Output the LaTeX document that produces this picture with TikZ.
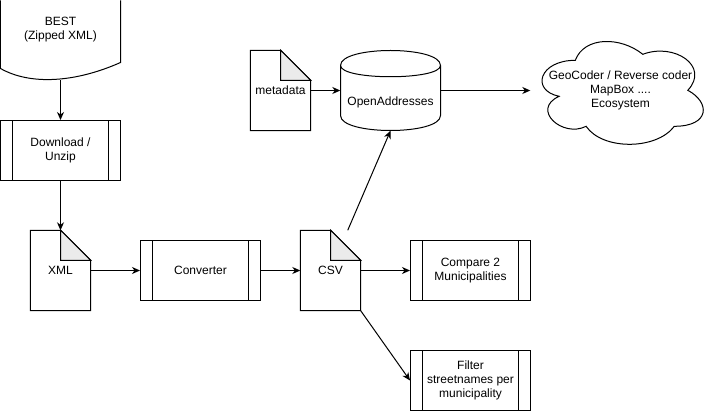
\documentclass[tikz,border=0pt]{standalone}
\usepackage{fontspec}
\setmainfont{Liberation Sans}
\usetikzlibrary{arrows.meta,calc}
\begin{document}
\begin{tikzpicture}[x=1pt,y=-1pt,
  every node/.style={font=\fontsize{12}{14}\selectfont, align=center, inner sep=0pt},
  shapeline/.style={line width=1pt, draw=black},
  arr/.style={line width=1pt, -{Stealth[length=8pt,width=7pt,inset=2.5pt]}},
  plainline/.style={line width=1pt},
  procbox/.style={draw, line width=1pt, rectangle, minimum width=120pt, minimum height=60pt,
    path picture={\draw[line width=1pt]
      ([xshift=12pt]path picture bounding box.north west) -- ([xshift=12pt]path picture bounding box.south west)
      ([xshift=-12pt]path picture bounding box.north east) -- ([xshift=-12pt]path picture bounding box.south east);}},
  docbox/.style={rectangle, minimum width=60pt, minimum height=80pt},
  foldfill/.style={fill=black!8}
]
\useasboundingbox (-0.5,-0.5) rectangle (710.5,410.5);

% BEST (document shape)
\draw[shapeline] (120,0) -- (120,62) .. controls (75,82) and (30,85) .. (0,68) -- (0,0);
\node (best) at (60,29) {BEST\\(Zipped XML)};
\coordinate (bestb) at (60,80);

% Download / Unzip
\node[procbox] (dl) at (60,150) {Download /\\Unzip};

% documents with folded corner
\newcommand\mynotedoc[1]{%
  \draw[shapeline] (#1.north west) -- ([xshift=-30pt]#1.north east) -- ([yshift=-30pt]#1.north east)
     -- (#1.south east) -- (#1.south west) -- cycle;
  \draw[shapeline, foldfill] ([xshift=-30pt]#1.north east) -- ([xshift=-30pt,yshift=-30pt]#1.north east)
     -- ([yshift=-30pt]#1.north east) -- cycle;}

\node[docbox] (xml) at (60,270) {XML};
\mynotedoc{xml}
\node[docbox] (csv) at (330,270) {CSV};
\mynotedoc{csv}
\node[docbox] (meta) at (280,90) {metadata};
\mynotedoc{meta}

% processes
\node[procbox] (conv) at (200,270) {Converter};
\node[procbox] (cmp) at (470,270) {Compare 2\\Municipalities};
\node[procbox] (filt) at (470,380) {Filter\\streetnames per\\municipality};

% OpenAddresses cylinder
\node[rectangle, minimum width=100pt, minimum height=80pt] (oa) at (390,90) {};
\draw[shapeline, fill=white] (340,65) .. controls (340,45) and (440,45) .. (440,65) -- (440,115)
   .. controls (440,135) and (340,135) .. (340,115) -- cycle;
\draw[shapeline] (340,65) .. controls (340,80) and (440,80) .. (440,65);
\node (oatext) at (390,102) {OpenAddresses};

% Cloud
\node[rectangle, minimum width=180pt, minimum height=120pt] (cloud) at (620,90) {GeoCoder / Reverse coder\\MapBox ....\\Ecosystem};
\begin{scope}[shift={(cloud.north west)}]
\draw[shapeline] (45,30) .. controls (9,30) and (0,60) .. (28.8,66)
  .. controls (0,79.2) and (32.4,108) .. (55.8,96)
  .. controls (72,120) and (126,120) .. (144,96)
  .. controls (180,96) and (180,72) .. (157.5,60)
  .. controls (180,36) and (144,12) .. (112.5,24)
  .. controls (90,6) and (54,6) .. (45,30) -- cycle;
\end{scope}

% connectors
\draw[arr] (bestb) -- (dl.north);
\draw[arr] (dl.south) -- (xml.north);
\draw[arr] (xml.east) -- (conv.west);
\draw[arr] (conv.east) -- (csv.west);
\draw[arr] (csv.east) -- (cmp.west);
\draw[arr] (csv.south east) -- (filt.west);
\draw[arr] (csv) -- (oa.south);
\draw[arr] (meta.east) -- (oa.west);
\draw[arr] (oa.east) -- (cloud.west);
\end{tikzpicture}
\end{document}
